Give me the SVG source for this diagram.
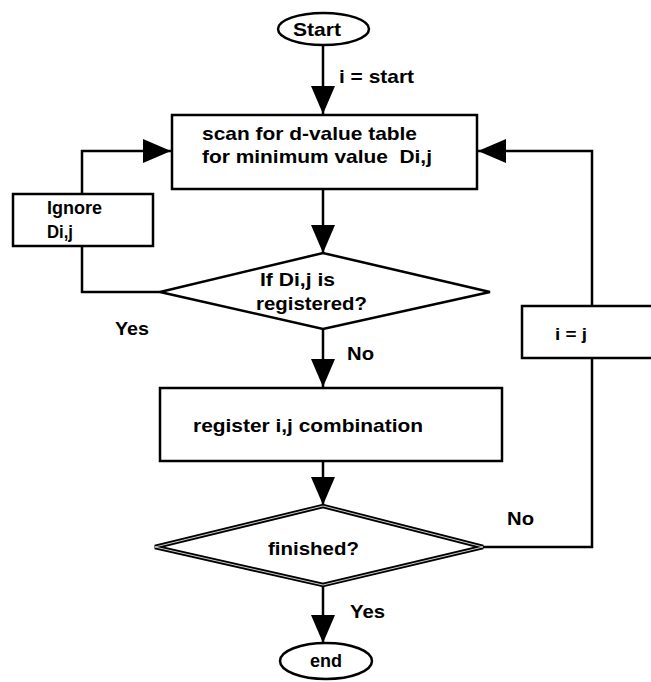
<svg xmlns="http://www.w3.org/2000/svg" width="651" height="682" viewBox="0 0 651 682">
<style>
.shape{fill:#fff;stroke:#000;stroke-width:2.5}
.ln{fill:none;stroke:#000;stroke-width:2.5}
.t{font-family:"Liberation Sans",Arial,sans-serif;font-weight:bold;font-size:19px;fill:#000}
.s{font-size:16px}
</style>
<defs>
<marker id="ah" markerUnits="userSpaceOnUse" markerWidth="28" markerHeight="24" refX="28" refY="12" orient="auto">
<path d="M0,0 L28,12 L0,24 z" fill="#000"/>
</marker>
</defs>
<rect width="651" height="682" fill="#fff"/>
<g id="connectors">
<path class="ln" d="M323,45 V114" marker-end="url(#ah)"/>
<path class="ln" d="M323,189 V253" marker-end="url(#ah)"/>
<path class="ln" d="M323,329 V387" marker-end="url(#ah)"/>
<path class="ln" d="M323,461 V505" marker-end="url(#ah)"/>
<path class="ln" d="M323,585 V643" marker-end="url(#ah)"/>
<path class="ln" d="M82,246 V292 H160"/>
<path class="ln" d="M82,194 V151 H171" marker-end="url(#ah)"/>
<path class="ln" d="M483,547 H592 V151 H478" marker-end="url(#ah)"/>
<text class="t" x="339" y="83" textLength="75" lengthAdjust="spacingAndGlyphs">i = start</text>
<text class="t" x="115" y="335" textLength="34" lengthAdjust="spacingAndGlyphs">Yes</text>
<text class="t" x="347" y="360" textLength="27" lengthAdjust="spacingAndGlyphs">No</text>
<text class="t" x="507" y="525" textLength="27" lengthAdjust="spacingAndGlyphs">No</text>
<text class="t" x="350" y="618" textLength="35" lengthAdjust="spacingAndGlyphs">Yes</text>
</g>
<g id="start">
<ellipse class="shape" cx="323.5" cy="29" rx="45.5" ry="16"/>
<text class="t" x="293" y="36" textLength="48" lengthAdjust="spacingAndGlyphs">Start</text>
</g>
<g id="scan">
<rect class="shape" x="172" y="115" width="305" height="74"/>
<text class="t" x="202" y="140" textLength="215" lengthAdjust="spacingAndGlyphs">scan for d-value table</text>
<text class="t" x="202" y="163" textLength="230" lengthAdjust="spacingAndGlyphs" xml:space="preserve">for minimum value  Di,j</text>
</g>
<g id="ignore">
<rect class="shape" x="13" y="194" width="140" height="52"/>
<text class="t" x="47" y="214" textLength="55" lengthAdjust="spacingAndGlyphs">Ignore</text>
<text class="t" x="47" y="238" textLength="26" lengthAdjust="spacingAndGlyphs">Di,j</text>
</g>
<g id="registered">
<polygon class="shape" points="160,292 323,253 490,292 323,329"/>
<text class="t" x="260" y="286" textLength="75" lengthAdjust="spacingAndGlyphs">If Di,j is</text>
<text class="t" x="256" y="310" textLength="111" lengthAdjust="spacingAndGlyphs">registered?</text>
</g>
<g id="register">
<rect class="shape" x="160" y="388" width="342" height="73"/>
<text class="t" x="193" y="432" textLength="230" lengthAdjust="spacingAndGlyphs">register i,j combination</text>
</g>
<g id="setij">
<rect class="shape" x="522" y="306" width="140" height="52"/>
<text class="t s" x="555" y="340" textLength="32" lengthAdjust="spacingAndGlyphs">i = j</text>
</g>
<g id="finished">
<polygon points="155,547 323,506 483,547 323,585" fill="#fff" stroke="#000" stroke-width="4.5" stroke-linejoin="miter"/>
<polygon points="155,547 323,506 483,547 323,585" fill="none" stroke="#fff" stroke-width="0.8"/>
<text class="t" x="268" y="555" textLength="91" lengthAdjust="spacingAndGlyphs">finished?</text>
</g>
<g id="end">
<ellipse class="shape" cx="326" cy="661" rx="46" ry="18"/>
<text class="t" x="310" y="667" textLength="32" lengthAdjust="spacingAndGlyphs">end</text>
</g>
</svg>
